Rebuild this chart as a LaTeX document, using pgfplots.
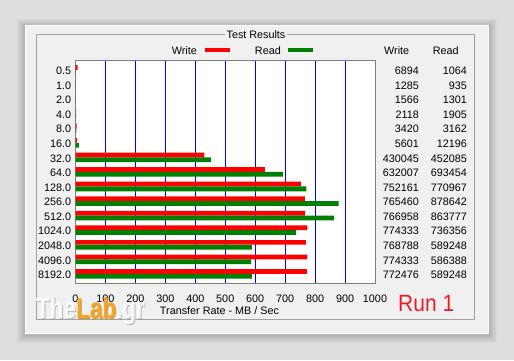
\documentclass[border=0pt]{standalone}
\usepackage{pgfplots}
\pgfplotsset{compat=1.18}
\usepackage{pgfplotstable}
\usepackage{fontspec}
\setmainfont{Liberation Sans}
\definecolor{bg}{RGB}{222,222,222}
\definecolor{panel}{RGB}{240,240,240}
\definecolor{boxline}{RGB}{160,160,160}
\definecolor{wred}{RGB}{255,0,0}
\definecolor{rgreen}{RGB}{0,128,0}
\definecolor{gridblue}{RGB}{0,0,255}
\definecolor{runred}{RGB}{235,30,40}
\definecolor{laborange}{RGB}{245,165,40}
\newcommand{\uifont}{\fontsize{10.8}{13}\selectfont}

% transfer size (KB), write and read rates (KB/s)
\pgfplotstableread{
idx write read
0 6894 1064
1 1285 935
2 1566 1301
3 2118 1905
4 3420 3162
5 5601 12196
6 430045 452085
7 632007 693454
8 752161 770967
9 765460 878642
10 766958 863777
11 774333 736356
12 768788 589248
13 774333 586388
14 772476 589248
}\data

\begin{document}
\begin{tikzpicture}[font=\uifont]
\fill[bg] (0pt,0pt) rectangle (514pt,360pt);
\foreach \i in {1,...,8}{\fill[black,opacity=0.022] (25pt-\i pt,25pt-\i pt) rectangle (489pt+\i pt,333pt+\i pt);}
\fill[panel] (25pt,26pt) rectangle (489pt,335pt);
\draw[white, line width=0.8pt] (25.4pt,26.4pt) rectangle (488.6pt,334.6pt);
\draw[boxline, line width=0.8pt] (36pt,41pt) rectangle (474pt,326pt);
\node[anchor=base, fill=panel, inner sep=2pt] at (256pt,321.7pt) {Test Results};
% legend
\node[anchor=base east, inner sep=0pt] at (197pt,306pt) {Write};
\fill[wred] (205pt,307.7pt) rectangle (230pt,312pt);
\node[anchor=base east, inner sep=0pt] at (281pt,306pt) {Read};
\fill[rgreen] (288pt,307.7pt) rectangle (313pt,312pt);
% column headers
\node[anchor=base west, inner sep=0pt] at (384pt,306pt) {Write};
\node[anchor=base west, inner sep=0pt] at (432.7pt,306pt) {Read};
% x label
\node[anchor=base, inner sep=0pt] at (219.5pt,46pt) {Transfer Rate - MB / Sec};
% Run 1
\node[anchor=base west, inner sep=0pt, text=runred, font=\fontsize{21}{24}\selectfont, yscale=1.12] at (398pt,49pt) {Run 1};

\begin{axis}[
  at={(75.5pt,76.7pt)}, anchor=south west,
  width=299.5pt, height=222.6pt, scale only axis,
  xmin=0, xmax=1000, ymin=-14.59, ymax=0.686,
  clip=false,
  axis line style={draw=gray, line width=1pt},
  axis background/.style={fill=white},
  xtick={0,100,...,1000},
  xticklabels={0,100,200,300,400,500,600,700,800,900,1000},
  ytick={-14,...,0},
  yticklabels={8192.0,4096.0,2048.0,1024.0,512.0,256.0,128.0,64.0,32.0,16.0,8.0,4.0,2.0,1.0,0.5},
  xmajorgrids, ymajorgrids=false,
  major grid style={gridblue, line width=1pt},
  major tick length=0pt,
  xticklabel style={anchor=base, inner sep=0pt, yshift=-19pt, font=\uifont},
  yticklabel style={anchor=base east, inner sep=0pt, xshift=-4.2pt, yshift=-4pt, font=\uifont},
]
\addplot[xbar, bar width=0.32, bar shift=0.22, fill=wred, draw=none]
  table[x expr=\thisrow{write}/1000, y expr=-\thisrow{idx}] {\data};
\addplot[xbar, bar width=0.33, bar shift=-0.11, fill=rgreen, draw=none]
  table[x expr=\thisrow{read}/1000, y expr=-\thisrow{idx}] {\data};
\addplot[draw=none, mark=none, nodes near coords, point meta=explicit symbolic,
  every node near coord/.append style={anchor=base east, inner sep=0pt, yshift=-4pt, font=\uifont, text=black}]
  table[x expr=1146.9, y expr=-\thisrow{idx}, meta=write] {\data};
\addplot[draw=none, mark=none, nodes near coords, point meta=explicit symbolic,
  every node near coord/.append style={anchor=base east, inner sep=0pt, yshift=-4pt, font=\uifont, text=black}]
  table[x expr=1307.2, y expr=-\thisrow{idx}, meta=read] {\data};
\end{axis}

% watermark
\begin{scope}[font=\bfseries\fontsize{22.5}{26}\selectfont]
\node[anchor=base west, inner sep=0pt, yscale=1.3, text=gray!55] at (37pt,41pt) {The\textcolor{laborange!70!gray}{Lab}.gr};
\node[anchor=base west, inner sep=0pt, yscale=1.3, text=white, opacity=0.92] at (36pt,42pt) {The\textcolor{laborange}{Lab}.gr};
\end{scope}
\end{tikzpicture}
\end{document}
